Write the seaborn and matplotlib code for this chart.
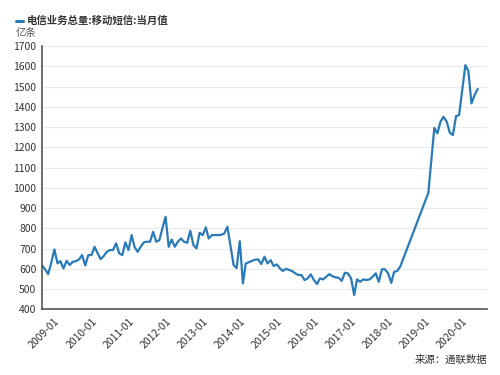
import matplotlib
matplotlib.use("Agg")
import matplotlib.pyplot as plt
from matplotlib.lines import Line2D
import numpy as np
import pandas as pd
import seaborn as sns

# ---- data (monthly, 亿条) ----
start_month = "2008-09"
vals_2008 = [618, 598, 574, 630]  # Sep-Dec
vals_2009 = [696, 627, 638, 602, 640, 619, 635, 638, 647, 668, 617, 668]
vals_2010 = [668, 709, 679, 648, 663, 684, 693, 693, 726, 677, 668, 731]
vals_2011 = [693, 767, 709, 684, 709, 731, 734, 734, 783, 734, 742, 800]
vals_2012 = [857, 709, 745, 709, 734, 750, 734, 729, 788, 718, 701, 778]
vals_2013 = [767, 805, 750, 767, 767, 767, 768, 775, 808, 715, 619, 604]
vals_2014 = [737, 528, 627, 633, 640, 645, 647, 624, 660, 627, 643, 614]
vals_2015 = [622, 602, 590, 600, 595, 589, 578, 570, 569, 545, 553, 573]
vals_2016 = [545, 525, 553, 548, 561, 574, 564, 558, 556, 541, 581, 578]
vals_2017 = [553, 471, 548, 536, 548, 545, 548, 561, 578, 536, 598, 598]
vals_2018 = [578, 531, 585, 590, 612, None, None, None, None, None, None, None]
vals_2019 = [None, 975, None, 1296, 1269, 1327, 1351, 1327, 1272, 1261, 1354, 1360]
vals_2020 = [None, 1606, 1578, 1417, 1458, 1488]  # Jan-Jun

tick_labels = ["2009-01", "2010-01", "2011-01", "2012-01", "2013-01", "2014-01",
               "2015-01", "2016-01", "2017-01", "2018-01", "2019-01", "2020-01"]
y_ticks = [400, 500, 600, 700, 800, 900, 1000, 1100, 1200, 1300, 1400, 1500, 1600, 1700]

title = "电信业务总量:移动短信:当月值"
unit = "亿条"
source = "来源：通联数据"

values = (vals_2008 + vals_2009 + vals_2010 + vals_2011 + vals_2012 + vals_2013 +
          vals_2014 + vals_2015 + vals_2016 + vals_2017 + vals_2018 + vals_2019 + vals_2020)
df = pd.DataFrame({
    "date": pd.date_range(start_month + "-01", periods=len(values), freq="MS"),
    "value": pd.array(values, dtype="Float64"),
}).dropna()
df["value"] = df["value"].astype(float)

# ---- style ----
sns.set_theme(style="white")
plt.rcParams["font.family"] = ["Noto Sans CJK SC", "DejaVu Sans"]

line_color = "#2a7ab8"
axis_color = "#555555"
text_color = "#333333"

fig = plt.figure(figsize=(5, 3.75), dpi=100)
ax = fig.add_axes([0.084, 0.175, 0.89, 0.702])

sns.lineplot(data=df, x="date", y="value", ax=ax, color=line_color, linewidth=1.6)

ax.set_ylim(400, 1700)
ax.set_yticks(y_ticks)
ax.set_xlim(pd.Timestamp("2008-09-01"), pd.Timestamp("2020-09-01"))
xt = pd.to_datetime([t + "-01" for t in tick_labels])
ax.set_xticks(xt)
ax.set_xticklabels(tick_labels, rotation=45, ha="right", rotation_mode="anchor")

ax.set_xlabel("")
ax.set_ylabel("")
ax.yaxis.grid(True, color="#ebebeb", linewidth=0.8)
ax.xaxis.grid(False)
for s in ["top", "right"]:
    ax.spines[s].set_visible(False)
for s in ["left", "bottom"]:
    ax.spines[s].set_color(axis_color)
    ax.spines[s].set_linewidth(1.2)

ax.tick_params(axis="both", direction="in", length=3, width=0.8, color=axis_color,
               labelsize=7.5, labelcolor=text_color)
ax.tick_params(axis="y", pad=4)
ax.tick_params(axis="x", pad=5)

# header / legend-like marker
fig.add_artist(Line2D([16 / 500, 23 / 500], [1 - 21 / 375] * 2, color=line_color, lw=2.2))
fig.text(27 / 500, 1 - 21 / 375, title, fontsize=7.5, fontweight="bold",
         color=text_color, va="center", ha="left")
fig.text(16 / 500, 1 - 33 / 375, unit, fontsize=7.5, color="#555555", va="center", ha="left")
fig.text(487 / 500, 1 - 360 / 375, source, fontsize=7.5, color=text_color,
         va="center", ha="right")

fig.savefig("out.png", dpi=100)
